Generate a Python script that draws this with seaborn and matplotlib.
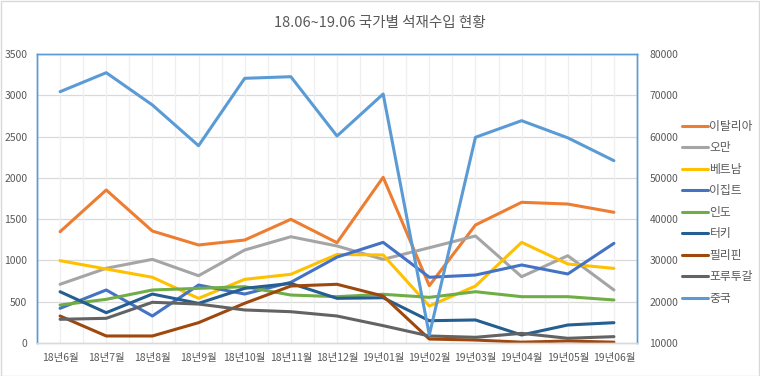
import matplotlib
matplotlib.use("Agg")
import matplotlib.pyplot as plt
import seaborn as sns
import pandas as pd
from matplotlib.lines import Line2D
from matplotlib.patches import Rectangle

months = ["18년6월", "18년7월", "18년8월", "18년9월", "18년10월", "18년11월", "18년12월",
          "19년01월", "19년02월", "19년03월", "19년04월", "19년05월", "19년06월"]

italy = [1348, 1853, 1356, 1187, 1247, 1498, 1215, 2007, 694, 1429, 1704, 1683, 1583]
oman = [711, 905, 1013, 815, 1126, 1287, 1175, 1013, 1154, 1296, 803, 1057, 642]
vietnam = [997, 896, 796, 541, 771, 832, 1072, 1066, 448, 690, 1219, 957, 904]
egypt = [420, 642, 327, 702, 593, 735, 1040, 1219, 796, 823, 945, 836, 1207]
india = [460, 529, 642, 662, 682, 581, 561, 590, 553, 621, 561, 561, 521]
turkey = [621, 367, 593, 480, 662, 722, 541, 548, 270, 279, 97, 218, 246]
philippines = [327, 85, 85, 246, 481, 690, 711, 569, 48, 36, 10, 24, 10]
portugal = [287, 299, 493, 472, 400, 379, 327, 210, 85, 69, 117, 57, 77]
china = [70870, 75470, 67650, 57790, 74110, 74500, 60140, 70310, 11940, 59820, 63850, 59700, 54160]

left_names = ["이탈리아", "오만", "베트남", "이집트", "인도", "터키", "필리핀", "포루투갈"]
left_series = [italy, oman, vietnam, egypt, india, turkey, philippines, portugal]
left_colors = ["#ED7D31", "#A5A5A5", "#FFC000", "#4472C4", "#70AD47",
               "#255E91", "#9E480E", "#636363"]
china_name = "중국"
china_color = "#5B9BD5"

sns.set_theme(style="white")
plt.rcParams["font.family"] = ["Noto Sans CJK KR", "DejaVu Sans"]

rows = []
for name, vals in zip(left_names, left_series):
    for i, v in enumerate(vals):
        rows.append({"x": i, "value": v, "country": name})
df = pd.DataFrame(rows)
df_cn = pd.DataFrame({"x": list(range(len(months))), "value": china})

fig = plt.figure(figsize=(7.6, 3.76), dpi=100)
ax = fig.add_axes([37 / 760, 1 - 343 / 376, 600 / 760, 289 / 376])
ax2 = ax.twinx()

lw = 2.2
sns.lineplot(data=df, x="x", y="value", hue="country", hue_order=left_names,
             palette=left_colors, ax=ax, linewidth=lw, legend=False, sort=False)
sns.lineplot(data=df_cn, x="x", y="value", color=china_color, ax=ax2,
             linewidth=lw, legend=False, sort=False)

txt = "#595959"
ax.set_xlim(-0.5, len(months) - 0.5)
ax.set_ylim(0, 3500)
ax2.set_ylim(10000, 80000)
ax.set_yticks(range(0, 3501, 500))
ax2.set_yticks(range(10000, 80001, 10000))
ax.set_xticks(range(len(months)))
ax.set_xticklabels(months)
ax.set_xlabel("")
ax.set_ylabel("")
ax2.set_xlabel("")
ax2.set_ylabel("")

# gridlines
for y in range(500, 3501, 500):
    ax.axhline(y, color="#D9D9D9", lw=0.9, zorder=0)
for k in range(0, 2 * len(months) + 1):
    ax.axvline(-0.5 + k * 0.5, color="#EFEFEF", lw=0.9, zorder=0)

ax.tick_params(axis="x", length=0, pad=7, labelsize=7.5, labelcolor=txt)
ax.tick_params(axis="y", length=0, pad=7, labelsize=7.5, labelcolor=txt)
ax2.tick_params(axis="y", length=0, pad=9, labelsize=7.5, labelcolor=txt)

for a in (ax, ax2):
    for s in ("left", "top", "right"):
        a.spines[s].set_color(china_color)
        a.spines[s].set_linewidth(1.0)
    a.spines["bottom"].set_color("#D9D9D9")
    a.spines["bottom"].set_linewidth(1.0)

fig.text(380 / 760, 1 - 23 / 376, "18.06~19.06 국가별 석재수입 현황",
         ha="center", va="center", fontsize=10.5, color=txt)

handles = [Line2D([0], [0], color=c, lw=lw) for c in left_colors]
handles.append(Line2D([0], [0], color=china_color, lw=lw))
labels = left_names + [china_name]
fig.legend(handles, labels, loc="upper left", bbox_to_anchor=(677 / 760, 1 - 115 / 376),
           frameon=False, fontsize=8.5, labelcolor=txt, handlelength=2.2,
           handletextpad=0.15, labelspacing=0.72, borderaxespad=0)

fig.patches.append(Rectangle((0.001, 0.001), 0.998, 0.997, transform=fig.transFigure,
                             fill=False, edgecolor="#D9D9D9", lw=1.0))

fig.savefig("out.png", dpi=100)
